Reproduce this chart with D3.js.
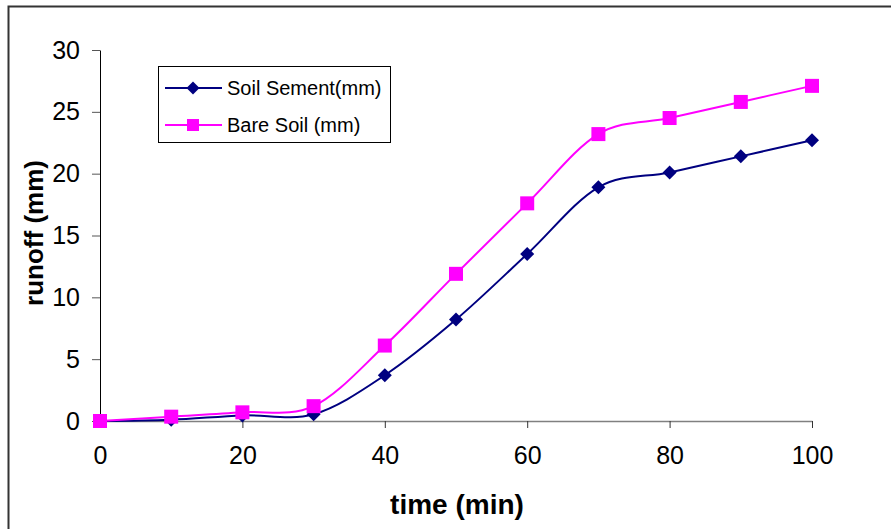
<!DOCTYPE html>
<html>
<head>
<meta charset="utf-8">
<script src="https://cdn.jsdelivr.net/npm/d3@7"></script>
<style>
  html, body { margin: 0; padding: 0; background: #fff; }
  svg { display: block; }
  text { font-family: "Liberation Sans", Arial, sans-serif; }
</style>
</head>
<body>
<div id="chart"></div>
<script>
const times = [0, 10, 20, 30, 40, 50, 60, 70, 80, 90, 100];
const soilSement = [0, 0.1, 0.45, 0.55, 3.7, 8.2, 13.5, 18.9, 20.1, 21.4, 22.7];
const bareSoil = [0, 0.35, 0.7, 1.2, 6.1, 11.9, 17.6, 23.2, 24.5, 25.8, 27.1];
const xTicks = [0, 20, 40, 60, 80, 100];
const yTicks = [0, 5, 10, 15, 20, 25, 30];
const seriesNames = ["Soil Sement(mm)", "Bare Soil (mm)"];
const seriesColors = ["#000080", "#FF00FF"];

const W = 891, H = 529;
const svg = d3.select("#chart").append("svg").attr("width", W).attr("height", H);

// outer chart border
svg.append("rect").attr("x", 8.5).attr("y", 6.5).attr("width", W).attr("height", H)
  .attr("fill", "none").attr("stroke", "#333").attr("stroke-width", 2);

const x = d3.scaleLinear().domain([0, 100]).range([100, 812]);
const y = d3.scaleLinear().domain([0, 30]).range([421, 50]);

// axes
const xAxis = svg.append("g").attr("transform", "translate(0,421)")
  .call(d3.axisBottom(x).tickValues(xTicks).tickSizeInner(7).tickSizeOuter(0).tickPadding(18));
xAxis.select(".domain").attr("stroke", "#808080").attr("stroke-width", 1.5);
xAxis.selectAll(".tick line").attr("stroke", "#333");
xAxis.selectAll("text").style("font-size", "25px").attr("fill", "#000");

const yAxis = svg.append("g").attr("transform", "translate(100,0)")
  .call(d3.axisLeft(y).tickValues(yTicks).tickSizeInner(8).tickSizeOuter(0).tickPadding(12));
yAxis.select(".domain").attr("stroke", "#000").attr("stroke-width", 1);
yAxis.selectAll(".tick line").attr("stroke", "#555");
yAxis.selectAll("text").style("font-size", "25px").attr("fill", "#000");

// axis titles
svg.append("text").attr("x", 457).attr("y", 514).attr("text-anchor", "middle")
  .style("font-size", "28px").attr("font-weight", "bold").text("time (min)");
svg.append("text").attr("transform", "translate(34,233) rotate(-90)").attr("text-anchor", "middle")
  .attr("dy", "0.35em")
  .style("font-size", "26px").attr("font-weight", "bold").text("runoff (mm)");

const line = d3.line().x(d => x(d[0])).y(d => y(d[1])).curve(d3.curveCatmullRom.alpha(0));

const allSeries = [soilSement, bareSoil];
const diamond = s => `M0,${-s}L${s},0L0,${s}L${-s},0Z`;

allSeries.forEach((vals, i) => {
  const pts = times.map((t, j) => [t, vals[j]]);
  svg.append("path").datum(pts).attr("d", line)
    .attr("fill", "none").attr("stroke", seriesColors[i]).attr("stroke-width", 2);
});
// markers: soil sement diamonds, bare soil squares
svg.append("g").selectAll("path").data(times.map((t, j) => [t, soilSement[j]])).join("path")
  .attr("transform", d => `translate(${x(d[0])},${y(d[1])})`)
  .attr("d", diamond(7)).attr("fill", seriesColors[0]);
svg.append("g").selectAll("rect").data(times.map((t, j) => [t, bareSoil[j]])).join("rect")
  .attr("x", d => x(d[0]) - 7).attr("y", d => y(d[1]) - 7)
  .attr("width", 14).attr("height", 14).attr("fill", seriesColors[1]);

// legend
const lg = svg.append("g");
lg.append("rect").attr("x", 158.5).attr("y", 66.5).attr("width", 232).attr("height", 76)
  .attr("fill", "#fff").attr("stroke", "#000").attr("stroke-width", 1);
const ly = [88, 125];
seriesNames.forEach((name, i) => {
  lg.append("line").attr("x1", 165).attr("x2", 222).attr("y1", ly[i]).attr("y2", ly[i])
    .attr("stroke", seriesColors[i]).attr("stroke-width", 2);
  if (i === 0) {
    lg.append("path").attr("transform", `translate(193,${ly[i]})`).attr("d", diamond(6.5)).attr("fill", seriesColors[i]);
  } else {
    lg.append("rect").attr("x", 187).attr("y", ly[i] - 6).attr("width", 12).attr("height", 12).attr("fill", seriesColors[i]);
  }
  lg.append("text").attr("x", 227).attr("y", ly[i]).attr("dy", "0.35em")
    .style("font-size", "20px").attr("fill", "#000").text(name);
});
</script>
</body>
</html>
